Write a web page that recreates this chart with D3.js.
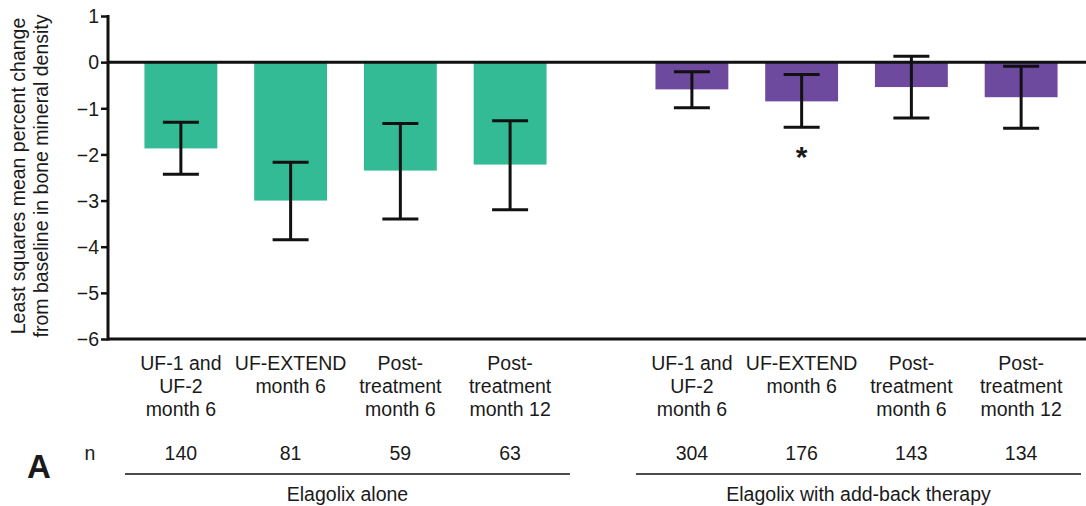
<!DOCTYPE html>
<html>
<head>
<meta charset="utf-8">
<script src="https://cdn.jsdelivr.net/npm/d3@7"></script>
<style>
  body { margin: 0; background: #fff; }
  text { font-family: "Liberation Sans", Arial, sans-serif; fill: #1a1a1a; }
</style>
</head>
<body>
<div id="chart"></div>
<script>
// data
var groups = ["Elagolix alone", "Elagolix with add-back therapy"];
var categories = [
  ["UF-1 and", "UF-2", "month 6"],
  ["UF-EXTEND", "month 6"],
  ["Post-", "treatment", "month 6"],
  ["Post-", "treatment", "month 12"]
];
var aloneMean = [-1.87, -3.0, -2.35, -2.22];
var aloneLow = [-2.43, -3.85, -3.40, -3.20];
var aloneHigh = [-1.30, -2.17, -1.33, -1.27];
var addbackMean = [-0.59, -0.85, -0.54, -0.76];
var addbackLow = [-0.99, -1.41, -1.21, -1.43];
var addbackHigh = [-0.21, -0.27, 0.13, -0.09];
var aloneN = [140, 81, 59, 63];
var addbackN = [304, 176, 143, 134];
var significant = [[false, false, false, false], [false, true, false, false]];
var yTicks = [1, 0, -1, -2, -3, -4, -5, -6];
var colors = ["#33bb96", "#6e4a9e"];

var svgWidth = 1086;
var svgHeight = 506;
var fontSize = "19.5px";

var svg = d3.select("#chart")
  .append("svg")
  .attr("width", svgWidth)
  .attr("height", svgHeight);

var axisX = 108;

var y = d3.scaleLinear()
  .domain([-6, 1])
  .range([339, 16]);

// outer scale for the two groups, inner scale for the bars
var x0 = d3.scaleBand()
  .domain(groups)
  .range([126, 1076])
  .paddingInner(0.141);

var x1 = d3.scaleBand()
  .domain(d3.range(categories.length))
  .range([0, x0.bandwidth()])
  .paddingInner(0.336)
  .paddingOuter(0.168);

var seriesData = [
  { group: groups[0], mean: aloneMean, low: aloneLow, high: aloneHigh, n: aloneN },
  { group: groups[1], mean: addbackMean, low: addbackLow, high: addbackHigh, n: addbackN }
];

var bars = [];
seriesData.forEach(function(s, gi) {
  s.mean.forEach(function(v, i) {
    bars.push({ gi: gi, i: i, group: s.group, mean: v, low: s.low[i], high: s.high[i], n: s.n[i] });
  });
});

function cx(d) {
  return x0(d.group) + x1(d.i) + x1.bandwidth() / 2;
}

// bars
svg.selectAll(".bar")
  .data(bars)
  .enter()
  .append("rect")
  .attr("class", "bar")
  .attr("x", d => x0(d.group) + x1(d.i))
  .attr("width", x1.bandwidth())
  .attr("y", d => y(0))
  .attr("height", d => y(d.mean) - y(0))
  .attr("fill", d => colors[d.gi]);

// y axis
var leftAxis = d3.axisLeft(y)
  .tickValues(yTicks)
  .tickSize(7)
  .tickFormat(d => d < 0 ? "\u2212" + Math.abs(d) : d);

var yAxis = svg.append("g")
  .attr("transform", `translate(${axisX}, 0)`)
  .call(leftAxis);

yAxis.select(".domain").remove();
yAxis.selectAll(".tick line").attr("stroke", "#111").attr("stroke-width", 2.5);
yAxis.selectAll(".tick text")
  .attr("x", -9)
  .attr("dy", "0.35em")
  .style("font-size", fontSize)
  .style("font-family", "Liberation Sans, Arial, sans-serif")
  .attr("fill", "#1a1a1a");

svg.append("line")
  .attr("x1", axisX).attr("x2", axisX)
  .attr("y1", y(1) - 1).attr("y2", y(-6) + 1.5)
  .attr("stroke", "#111").attr("stroke-width", 3);

// zero line and bottom line
[0, -6].forEach(function(v) {
  svg.append("line")
    .attr("x1", axisX).attr("x2", svgWidth)
    .attr("y1", y(v)).attr("y2", y(v))
    .attr("stroke", "#111").attr("stroke-width", 3);
});

// error bars
var capHalf = 18;
var err = svg.selectAll(".err")
  .data(bars)
  .enter()
  .append("g")
  .attr("class", "err")
  .attr("stroke", "#111")
  .attr("stroke-width", 3);

err.append("line")
  .attr("x1", cx).attr("x2", cx)
  .attr("y1", d => y(d.high)).attr("y2", d => y(d.low));
err.append("line")
  .attr("x1", d => cx(d) - capHalf).attr("x2", d => cx(d) + capHalf)
  .attr("y1", d => y(d.high)).attr("y2", d => y(d.high));
err.append("line")
  .attr("x1", d => cx(d) - capHalf).attr("x2", d => cx(d) + capHalf)
  .attr("y1", d => y(d.low)).attr("y2", d => y(d.low));

// asterisk for significance
svg.selectAll(".star")
  .data(bars.filter(d => significant[d.gi][d.i]))
  .enter()
  .append("text")
  .attr("x", cx)
  .attr("y", d => y(d.low) + 40)
  .attr("text-anchor", "middle")
  .style("font-size", "30px")
  .style("font-weight", "bold")
  .text("*");

// category labels
var catLabels = svg.selectAll(".cat")
  .data(bars)
  .enter()
  .append("text")
  .attr("class", "cat")
  .attr("text-anchor", "middle")
  .style("font-size", fontSize);

catLabels.selectAll("tspan")
  .data(d => categories[d.i].map(t => ({ t: t, x: cx(d) })))
  .enter()
  .append("tspan")
  .attr("x", d => d.x)
  .attr("y", (d, k) => 370 + k * 23)
  .text(d => d.t);

// n row
svg.append("text")
  .attr("x", 90)
  .attr("y", 460)
  .attr("text-anchor", "middle")
  .style("font-size", fontSize)
  .text("n");

svg.selectAll(".nval")
  .data(bars)
  .enter()
  .append("text")
  .attr("x", cx)
  .attr("y", 460)
  .attr("text-anchor", "middle")
  .style("font-size", fontSize)
  .text(d => d.n);

// group lines and names
groups.forEach(function(g) {
  svg.append("line")
    .attr("x1", x0(g) - 1).attr("x2", x0(g) + x0.bandwidth() + 5)
    .attr("y1", 474).attr("y2", 474)
    .attr("stroke", "#111").attr("stroke-width", 1.5);
  svg.append("text")
    .attr("x", x0(g) + x0.bandwidth() / 2 + 2)
    .attr("y", 501)
    .attr("text-anchor", "middle")
    .style("font-size", fontSize)
    .text(g);
});

// y axis title
var yTitle = svg.append("text")
  .attr("transform", "translate(25, 176) rotate(-90)")
  .attr("text-anchor", "middle")
  .style("font-size", "19.5px");
yTitle.append("tspan").attr("x", 0).attr("y", 0).text("Least squares mean percent change");
yTitle.append("tspan").attr("x", 0).attr("y", 23).text("from baseline in bone mineral density");

// panel letter
svg.append("text")
  .attr("x", 27)
  .attr("y", 478)
  .style("font-size", "33px")
  .style("font-weight", "bold")
  .text("A");
</script>
</body>
</html>
